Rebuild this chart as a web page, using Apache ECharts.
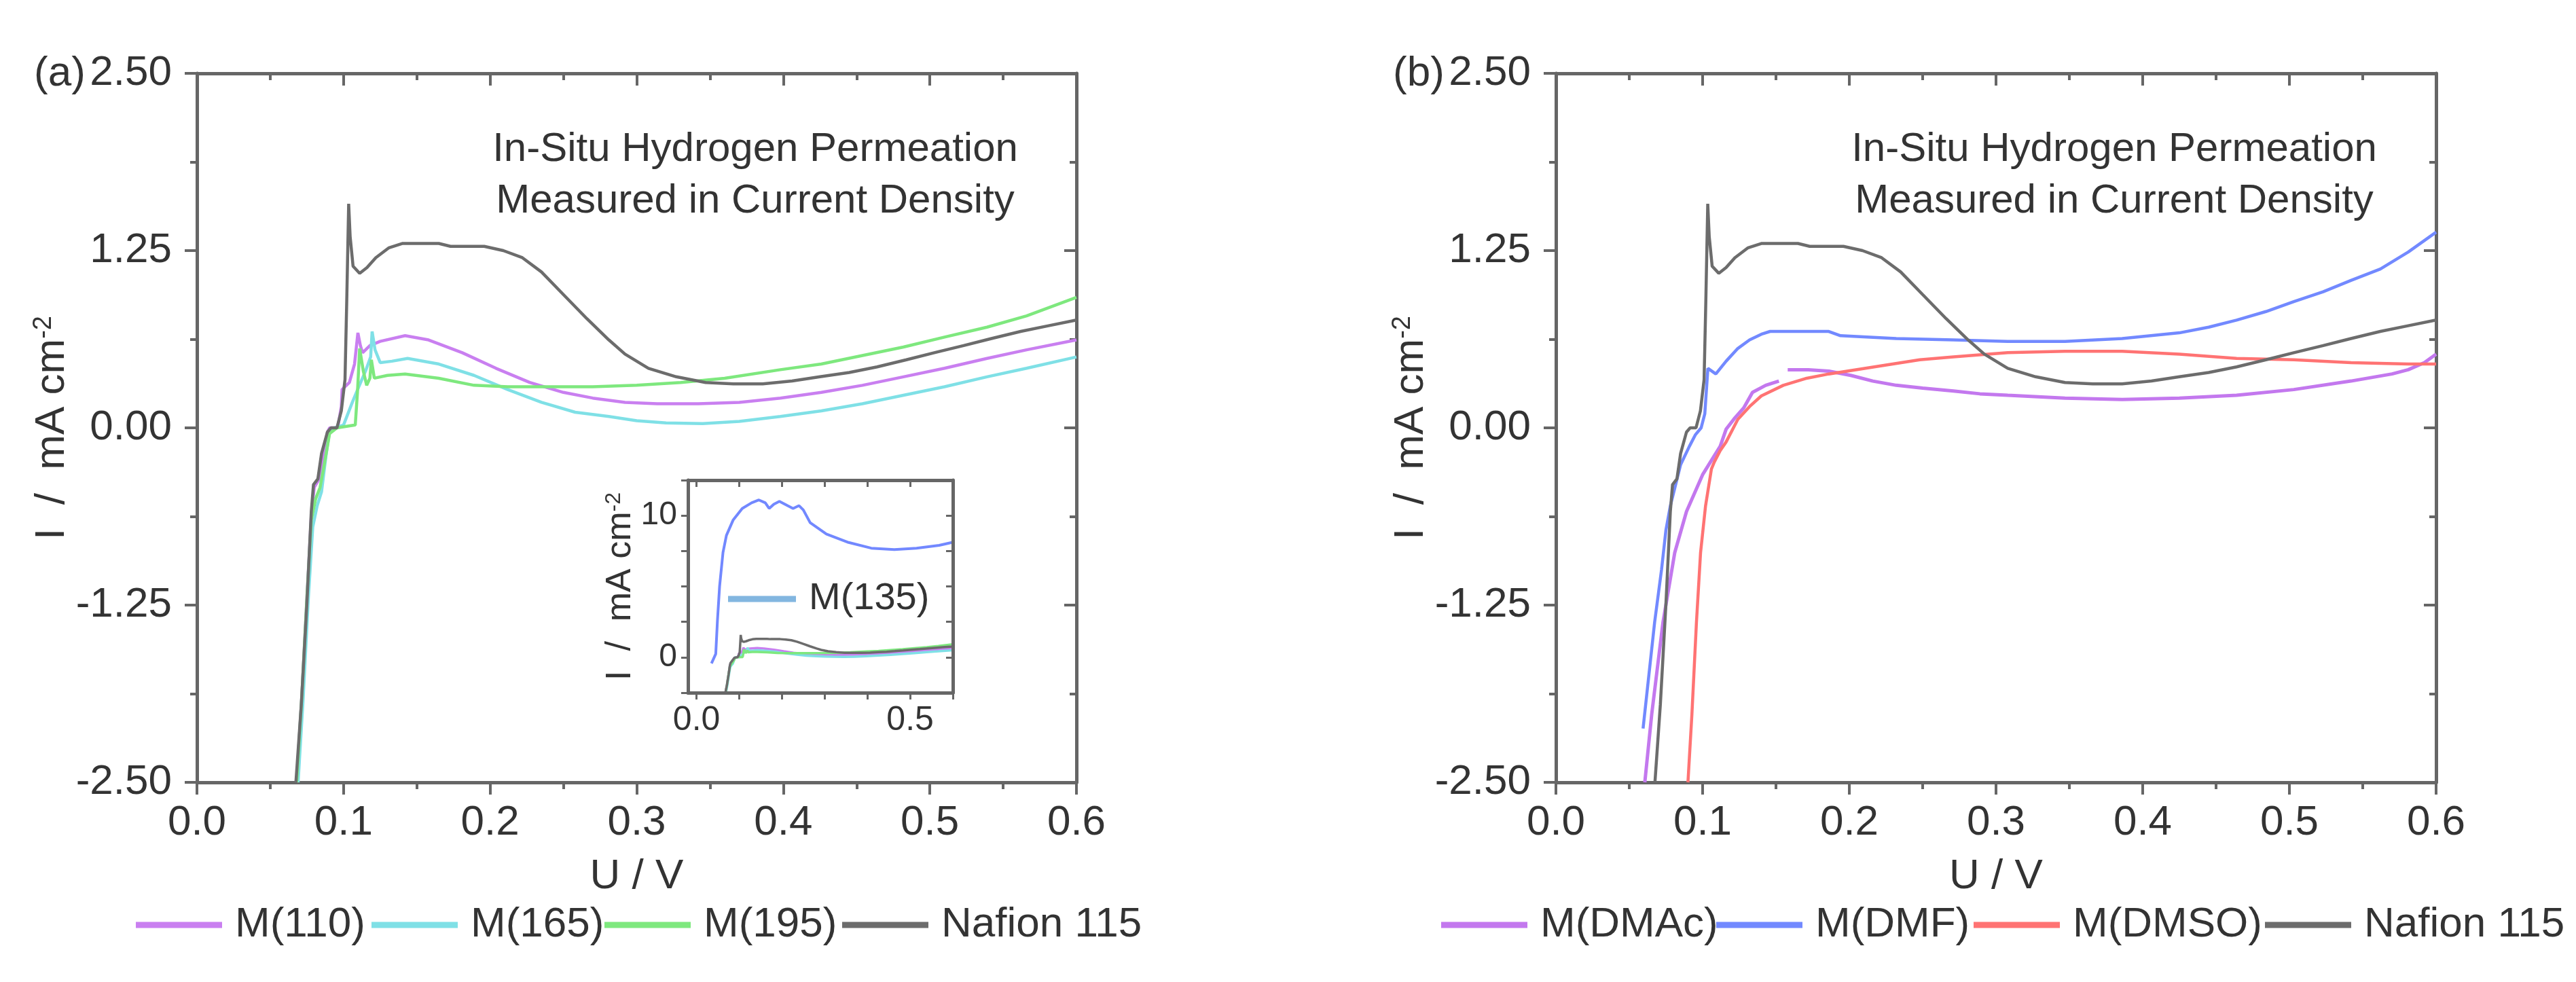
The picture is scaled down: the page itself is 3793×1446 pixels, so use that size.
<!DOCTYPE html>
<html>
<head>
<meta charset="utf-8">
<title>In-Situ Hydrogen Permeation</title>
<script src="https://cdn.jsdelivr.net/npm/echarts@6/dist/echarts.min.js"></script>
<style>
  html, body { margin: 0; padding: 0; background: #fff; }
  #chart { width: 3793px; height: 1446px; }
</style>
</head>
<body>
<div id="chart"></div>
<script>
// ---- data: [U / V, I / mA cm-2] ----
var insetXTicks = [0, 0.1, 0.2, 0.3, 0.4, 0.5, 0.6];
var insetXLabels = [0, 0.5];
var insetYLabels = [0, 10];

var nafion115 = [[0.0675,-2.5],[0.0712,-1.95],[0.075,-1.24],[0.078,-0.59],[0.0795,-0.40],[0.0825,-0.36],[0.085,-0.18],
    [0.089,-0.03],[0.0915,0.0],[0.0955,0.0],[0.0985,0.12],[0.101,0.34],[0.1022,0.9],[0.1035,1.58],[0.1045,1.35],
    [0.1065,1.14],[0.111,1.09],[0.116,1.13],[0.122,1.20],[0.131,1.27],[0.140,1.30],[0.165,1.30],[0.173,1.28],
    [0.196,1.28],[0.209,1.25],[0.222,1.20],[0.235,1.10],[0.250,0.94],[0.266,0.77],[0.281,0.62],[0.292,0.52],
    [0.308,0.42],[0.327,0.36],[0.347,0.32],[0.366,0.31],[0.386,0.31],[0.406,0.33],[0.425,0.36],[0.445,0.39],
    [0.464,0.43],[0.484,0.48],[0.503,0.53],[0.523,0.58],[0.542,0.63],[0.562,0.68],[0.581,0.72],[0.600,0.76]];

var m110 = [[0.068,-2.5],[0.0715,-1.9],[0.075,-1.2],[0.078,-0.62],[0.080,-0.42],[0.0835,-0.36],[0.086,-0.2],
    [0.089,-0.03],[0.0905,0.0],[0.096,0.0],[0.0985,0.15],[0.099,0.27],[0.104,0.32],[0.1075,0.45],[0.1098,0.67],
    [0.1115,0.58],[0.113,0.53],[0.118,0.58],[0.125,0.61],[0.142,0.65],[0.158,0.62],[0.181,0.53],[0.204,0.42],
    [0.227,0.32],[0.250,0.25],[0.270,0.21],[0.292,0.18],[0.314,0.17],[0.342,0.17],[0.370,0.18],[0.398,0.21],
    [0.426,0.25],[0.454,0.30],[0.482,0.36],[0.510,0.42],[0.539,0.49],[0.566,0.55],[0.600,0.62]];

var m165 = [[0.069,-2.5],[0.0725,-1.9],[0.076,-1.2],[0.079,-0.70],[0.082,-0.55],[0.085,-0.45],[0.088,-0.2],
    [0.0905,-0.02],[0.094,0.0],[0.100,0.02],[0.106,0.18],[0.110,0.28],[0.115,0.40],[0.1185,0.50],[0.1195,0.68],
    [0.1215,0.55],[0.125,0.46],[0.133,0.47],[0.1437,0.49],[0.165,0.45],[0.189,0.37],[0.212,0.27],[0.235,0.18],
    [0.258,0.11],[0.281,0.08],[0.300,0.05],[0.320,0.035],[0.345,0.03],[0.370,0.045],[0.398,0.08],[0.426,0.12],
    [0.454,0.17],[0.482,0.23],[0.510,0.29],[0.539,0.36],[0.566,0.42],[0.600,0.50]];

var m195 = [[0.068,-2.5],[0.0715,-1.9],[0.075,-1.2],[0.078,-0.65],[0.081,-0.5],[0.084,-0.42],[0.087,-0.25],
    [0.0905,-0.04],[0.0955,0.0],[0.108,0.02],[0.1095,0.25],[0.111,0.56],[0.1135,0.40],[0.1158,0.30],[0.118,0.35],
    [0.119,0.48],[0.121,0.35],[0.130,0.37],[0.142,0.38],[0.165,0.35],[0.189,0.30],[0.212,0.29],[0.242,0.29],
    [0.270,0.29],[0.300,0.30],[0.330,0.32],[0.360,0.35],[0.398,0.41],[0.426,0.45],[0.454,0.51],[0.482,0.57],
    [0.510,0.64],[0.539,0.71],[0.566,0.79],[0.600,0.92]];

var mDMAc = [[0.0606,-2.5],[0.0653,-2.02],[0.073,-1.37],[0.081,-0.88],[0.089,-0.59],[0.100,-0.33],[0.112,-0.13],
    [0.116,-0.01],[0.122,0.07],[0.128,0.14],[0.134,0.25],[0.143,0.30],[0.152,0.33],[0.155,null],[0.158,0.41],
    [0.172,0.41],[0.186,0.40],[0.201,0.37],[0.216,0.33],[0.232,0.30],[0.250,0.28],[0.271,0.26],[0.289,0.24],
    [0.308,0.23],[0.347,0.21],[0.386,0.20],[0.425,0.21],[0.464,0.23],[0.503,0.27],[0.542,0.33],[0.570,0.38],
    [0.581,0.41],[0.592,0.46],[0.600,0.52]];

var mDMF = [[0.0594,-2.12],[0.0673,-1.37],[0.072,-1.0],[0.075,-0.72],[0.078,-0.55],[0.085,-0.26],[0.091,-0.13],
    [0.095,-0.05],[0.099,0.0],[0.1015,0.10],[0.1036,0.42],[0.109,0.38],[0.116,0.47],[0.124,0.56],[0.132,0.62],
    [0.140,0.66],[0.146,0.68],[0.186,0.68],[0.194,0.65],[0.232,0.63],[0.271,0.62],[0.308,0.61],[0.347,0.61],
    [0.386,0.63],[0.425,0.67],[0.445,0.71],[0.464,0.76],[0.484,0.82],[0.503,0.89],[0.523,0.96],[0.542,1.04],
    [0.562,1.12],[0.581,1.24],[0.600,1.38]];

var mDMSO = [[0.090,-2.5],[0.0927,-2.02],[0.0958,-1.37],[0.0986,-0.88],[0.102,-0.55],[0.106,-0.29],[0.108,-0.24],
    [0.112,-0.16],[0.116,-0.10],[0.124,0.06],[0.132,0.15],[0.140,0.225],[0.155,0.30],[0.171,0.35],[0.186,0.38],
    [0.217,0.43],[0.248,0.48],[0.271,0.50],[0.308,0.53],[0.347,0.54],[0.386,0.54],[0.425,0.52],[0.464,0.49],
    [0.503,0.48],[0.542,0.46],[0.581,0.45],[0.600,0.45]];

// inset of panel (a)
var m135 = [[0.035,-0.43],[0.045,0.24],[0.049,2.6],[0.054,5.0],[0.062,7.4],[0.070,8.6],[0.086,9.7],[0.107,10.5],
    [0.129,10.9],[0.146,11.1],[0.161,10.9],[0.170,10.5],[0.181,10.8],[0.194,11.0],[0.213,10.7],[0.226,10.5],
    [0.240,10.7],[0.250,10.4],[0.266,9.5],[0.304,8.7],[0.356,8.1],[0.409,7.7],[0.463,7.6],[0.515,7.7],
    [0.568,7.9],[0.598,8.1]];

var colors = {
    m110 : '#c97ff0',
    m165 : '#7fe0e6',
    m195 : '#7ee87e',
    nafion : '#6c6c6c',
    dmac : '#c378ee',
    dmf : '#7289ff',
    dmso : '#ff7373',
    m135 : '#7288ff',
    m135Legend : '#82b6e0'
};

var FONT = '"Liberation Sans", Arial, sans-serif';
var AXIS_COLOR = '#666666';
var TEXT_COLOR = '#333333';

var chart = echarts.init(document.getElementById('chart'));

/**
 * main value axis (bottom or left) with outward ticks
 */
function mainAxis(grid, pos, min, max, interval, fmt, name, nameGap) {
    return {
        type : 'value',
        gridIndex : grid,
        position : pos,
        min : min,
        max : max,
        interval : interval,
        name : name,
        nameLocation : 'middle',
        nameGap : nameGap,
        nameTextStyle : {
            color : TEXT_COLOR,
            fontFamily : FONT,
            fontSize : 62,
            rich : {
                n : { fontFamily : FONT, fontSize : 62, color : TEXT_COLOR },
                sup : { fontFamily : FONT, fontSize : 38, color : TEXT_COLOR, verticalAlign : 'top', padding : [0, 0, 22, 0] }
            }
        },
        splitLine : { show : false },
        axisLine : { onZero : false, lineStyle : { color : AXIS_COLOR, width : 5 } },
        axisTick : { inside : false, length : 18, lineStyle : { color : AXIS_COLOR, width : 4 } },
        minorTick : { show : true, splitNumber : 2, length : 10, lineStyle : { color : AXIS_COLOR, width : 4 } },
        axisLabel : {
            margin : pos == 'bottom' ? 29 : 37,
            color : TEXT_COLOR,
            fontFamily : FONT,
            fontSize : 62,
            showMinLabel : true,
            showMaxLabel : true,
            formatter : fmt
        }
    };
}

/**
 * mirror axis (top or right), ticks pointing in, no labels
 */
function mirrorAxis(grid, pos, min, max, interval) {
    return {
        type : 'value',
        gridIndex : grid,
        position : pos,
        min : min,
        max : max,
        interval : interval,
        splitLine : { show : false },
        axisLine : { onZero : false, lineStyle : { color : AXIS_COLOR, width : 5 } },
        axisTick : { inside : true, length : 18, lineStyle : { color : AXIS_COLOR, width : 4 } },
        minorTick : { show : true, splitNumber : 2, length : 10, lineStyle : { color : AXIS_COLOR, width : 4 } },
        axisLabel : { show : false }
    };
}

function fmtX(v) {
    return v.toFixed(1);
}
function fmtY(v) {
    return v.toFixed(2);
}

function lineSeries(name, data, color, axis, width) {
    return {
        name : name,
        type : 'line',
        xAxisIndex : axis,
        yAxisIndex : axis,
        data : data,
        symbol : 'none',
        connectNulls : false,
        clip : true,
        z : axis == 4 ? 8 : 2,
        lineStyle : { color : color, width : width },
        itemStyle : { color : color }
    };
}

function oneLegend(name, left, top, itemWidth, fontSize, color) {
    var item = { name : name, icon : 'rect' };
    if (color) {
        item.itemStyle = { color : color };
    }
    return {
        data : [ item ],
        left : left,
        top : top,
        padding : 0,
        itemWidth : itemWidth,
        itemHeight : 9,
        selectedMode : false,
        z : 10,
        textStyle : {
            color : TEXT_COLOR,
            fontFamily : FONT,
            fontSize : fontSize,
            padding : [0, 0, 0, 14]
        }
    };
}

var yName = '{n|I  /  mA cm}{sup|-2}';

var option = {
    animation : false,
    backgroundColor : '#ffffff',
    grid : [
        { left : 290, top : 108, width : 1295, height : 1044 },
        { left : 2291, top : 108, width : 1296, height : 1044 },
        { left : 1013, top : 707, width : 390, height : 313, show : true, backgroundColor : '#ffffff', borderWidth : 0, z : 5 }
    ],
    xAxis : [
        mainAxis(0, 'bottom', 0, 0.6, 0.1, fmtX, 'U / V', 108),
        mirrorAxis(0, 'top', 0, 0.6, 0.1),
        mainAxis(1, 'bottom', 0, 0.6, 0.1, fmtX, 'U / V', 108),
        mirrorAxis(1, 'top', 0, 0.6, 0.1),
        {
            type : 'value', gridIndex : 2, position : 'bottom', min : -0.02, max : 0.6, z : 9,
            splitLine : { show : false },
            axisLine : { onZero : false, lineStyle : { color : AXIS_COLOR, width : 5 } },
            axisTick : { inside : false, length : 10, customValues : insetXTicks, lineStyle : { color : AXIS_COLOR, width : 3 } },
            axisLabel : { customValues : insetXLabels, margin : 16, color : TEXT_COLOR, fontFamily : FONT, fontSize : 50, formatter : fmtX }
        },
        {
            type : 'value', gridIndex : 2, position : 'top', min : -0.02, max : 0.6, z : 9,
            splitLine : { show : false },
            axisLine : { onZero : false, lineStyle : { color : AXIS_COLOR, width : 5 } },
            axisTick : { inside : true, length : 10, customValues : insetXTicks, lineStyle : { color : AXIS_COLOR, width : 3 } },
            axisLabel : { show : false }
        }
    ],
    yAxis : [
        mainAxis(0, 'left', -2.5, 2.5, 1.25, fmtY, yName, 179),
        mirrorAxis(0, 'right', -2.5, 2.5, 1.25),
        mainAxis(1, 'left', -2.5, 2.5, 1.25, fmtY, yName, 179),
        mirrorAxis(1, 'right', -2.5, 2.5, 1.25),
        {
            type : 'value', gridIndex : 2, position : 'left', min : -2.5, max : 12.5, interval : 2.5, z : 9,
            name : yName, nameLocation : 'middle', nameGap : 60,
            nameTextStyle : {
                rich : {
                    n : { fontFamily : FONT, fontSize : 52, color : TEXT_COLOR },
                    sup : { fontFamily : FONT, fontSize : 32, color : TEXT_COLOR, verticalAlign : 'top', padding : [0, 0, 18, 0] }
                }
            },
            splitLine : { show : false },
            axisLine : { onZero : false, lineStyle : { color : AXIS_COLOR, width : 5 } },
            axisTick : { inside : false, length : 10, lineStyle : { color : AXIS_COLOR, width : 3 } },
            axisLabel : {
                customValues : insetYLabels,
                margin : 16, color : TEXT_COLOR, fontFamily : FONT, fontSize : 48
            }
        },
        {
            type : 'value', gridIndex : 2, position : 'right', min : -2.5, max : 12.5, interval : 2.5, z : 9,
            splitLine : { show : false },
            axisLine : { onZero : false, lineStyle : { color : AXIS_COLOR, width : 5 } },
            axisTick : { inside : true, length : 10, lineStyle : { color : AXIS_COLOR, width : 3 } },
            axisLabel : { show : false }
        }
    ],
    legend : [
        oneLegend('M(110)', 200, 1331, 127, 62),
        oneLegend('M(165)', 547, 1331, 127, 62),
        oneLegend('M(195)', 890, 1331, 127, 62),
        oneLegend('Nafion 115', 1240, 1331, 127, 62),
        oneLegend('M(DMAc)', 2122, 1331, 127, 62),
        oneLegend('M(DMF)', 2527, 1331, 127, 62),
        oneLegend('M(DMSO)', 2906, 1331, 127, 62),
        oneLegend('Nafion 115 ', 3335, 1331, 127, 62),
        oneLegend('M(135)', 1072, 854, 100, 56, colors.m135Legend)
    ],
    graphic : [
        { type : 'text', left : 50, top : 78, z : 10,
          style : { text : '(a)', font : '62px ' + FONT, fill : TEXT_COLOR } },
        { type : 'text', left : 2051, top : 78, z : 10,
          style : { text : '(b)', font : '62px ' + FONT, fill : TEXT_COLOR } },
        { type : 'text', x : 1112, y : 220, z : 10,
          style : { text : 'In-Situ Hydrogen Permeation', font : '60px ' + FONT, fill : TEXT_COLOR, align : 'center', verticalAlign : 'middle' } },
        { type : 'text', x : 1112, y : 296, z : 10,
          style : { text : 'Measured in Current Density', font : '60px ' + FONT, fill : TEXT_COLOR, align : 'center', verticalAlign : 'middle' } },
        { type : 'text', x : 3113, y : 220, z : 10,
          style : { text : 'In-Situ Hydrogen Permeation', font : '60px ' + FONT, fill : TEXT_COLOR, align : 'center', verticalAlign : 'middle' } },
        { type : 'text', x : 3113, y : 296, z : 10,
          style : { text : 'Measured in Current Density', font : '60px ' + FONT, fill : TEXT_COLOR, align : 'center', verticalAlign : 'middle' } }
    ],
    series : [
        lineSeries('M(110)', m110, colors.m110, 0, 4.5),
        lineSeries('M(165)', m165, colors.m165, 0, 4.5),
        lineSeries('M(195)', m195, colors.m195, 0, 4.5),
        lineSeries('Nafion 115', nafion115, colors.nafion, 0, 4.5),
        lineSeries('M(DMAc)', mDMAc, colors.dmac, 2, 5),
        lineSeries('M(DMF)', mDMF, colors.dmf, 2, 4.5),
        lineSeries('M(DMSO)', mDMSO, colors.dmso, 2, 4.5),
        lineSeries('Nafion 115 ', nafion115, colors.nafion, 2, 4.5),
        lineSeries('M(135)', m135, colors.m135, 4, 4),
        lineSeries('M(110) inset', m110, colors.m110, 4, 3.5),
        lineSeries('M(165) inset', m165, colors.m165, 4, 3.5),
        lineSeries('M(195) inset', m195, colors.m195, 4, 3.5),
        lineSeries('Nafion 115 inset', nafion115, colors.nafion, 4, 3.5)
    ]
};

chart.setOption(option);
</script>
</body>
</html>
